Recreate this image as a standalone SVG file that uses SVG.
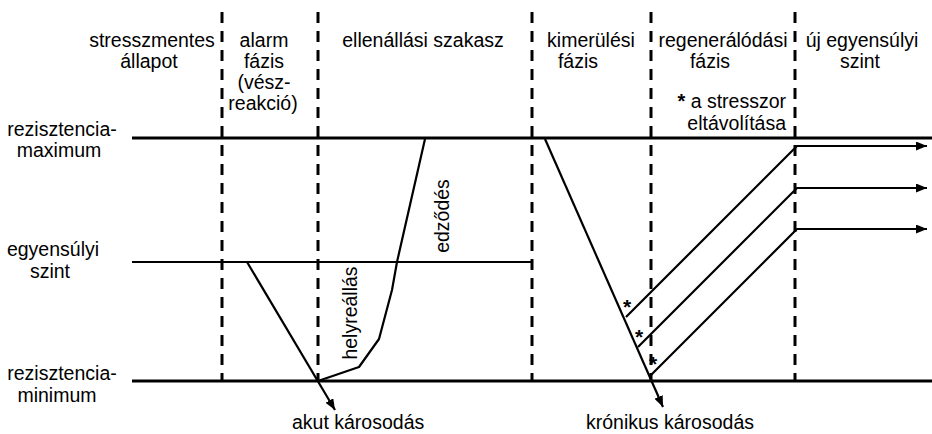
<svg xmlns="http://www.w3.org/2000/svg" width="932" height="434" viewBox="0 0 932 434">
<style>
text{font-family:"Liberation Sans",Arial,sans-serif;font-size:19.5px;fill:#000}
.m{text-anchor:middle}
.e{text-anchor:end}
.dash{stroke:#000;stroke-width:3;stroke-dasharray:11 8;fill:none}
.lvl{stroke:#000;fill:none}
.ln{stroke:#000;stroke-width:2.2;fill:none;stroke-linejoin:round}
.ast{font-weight:bold;font-size:21px;text-anchor:middle}
</style>
<defs>
<marker id="arr" markerUnits="userSpaceOnUse" markerWidth="12" markerHeight="10" refX="11" refY="4.5" orient="auto">
<path d="M0,0 L11,4.5 L0,9 z" fill="#000"/>
</marker>
</defs>
<rect width="932" height="434" fill="#fff"/>
<g id="phase-boundaries">
<line class="dash" x1="222" y1="12" x2="222" y2="381"/>
<line class="dash" x1="318" y1="12" x2="318" y2="381"/>
<line class="dash" x1="532" y1="12" x2="532" y2="381"/>
<line class="dash" x1="651" y1="12" x2="651" y2="381"/>
<line class="dash" x1="795" y1="12" x2="795" y2="381"/>
</g>
<g id="levels">
<line class="lvl" x1="132" y1="138" x2="932" y2="138" stroke-width="3"/>
<line class="lvl" x1="132" y1="262" x2="531" y2="262" stroke-width="2"/>
<line class="lvl" x1="132" y1="381" x2="932" y2="381" stroke-width="3"/>
</g>
<g id="connectors">
<path class="ln" d="M247,262 L335,410" marker-end="url(#arr)"/>
<path class="ln" d="M318,381 L359,367 L379,339 L392,290 L397,262 L425,139"/>
<path class="ln" d="M545,139 L663,407" marker-end="url(#arr)"/>
<path class="ln" d="M626,317 L797,146 H927" marker-end="url(#arr)"/>
<path class="ln" d="M638,347 L797,188 H927" marker-end="url(#arr)"/>
<path class="ln" d="M651,375 L797,229 H927" marker-end="url(#arr)"/>
</g>
<g id="header-stresszmentes">
<text class="m" x="152" y="47">stresszmentes</text>
<text class="m" x="149" y="68">állapot</text>
</g>
<g id="header-alarm">
<text class="m" x="264" y="47">alarm</text>
<text class="m" x="264" y="68">fázis</text>
<text class="m" x="264" y="89">(vész-</text>
<text class="m" x="263" y="110">reakció)</text>
</g>
<g id="header-ellenallasi">
<text class="m" x="423" y="47">ellenállási szakasz</text>
</g>
<g id="header-kimerulesi">
<text class="m" x="591" y="47">kimerülési</text>
<text class="m" x="578" y="68">fázis</text>
</g>
<g id="header-regeneralodasi">
<text class="m" x="723" y="47">regenerálódási</text>
<text class="m" x="710" y="68">fázis</text>
<text class="e" x="786" y="108"><tspan font-weight="bold" font-size="20">*</tspan> a stresszor</text>
<text class="e" x="786" y="130">eltávolítása</text>
</g>
<g id="header-uj">
<text class="m" x="862" y="47">új egyensúlyi</text>
<text class="m" x="860" y="68">szint</text>
</g>
<g id="label-max">
<text class="m" x="62" y="136">rezisztencia-</text>
<text class="m" x="59" y="157">maximum</text>
</g>
<g id="label-eq">
<text class="m" x="53" y="256">egyensúlyi</text>
<text class="m" x="50" y="278">szint</text>
</g>
<g id="label-min">
<text class="m" x="62" y="380">rezisztencia-</text>
<text class="m" x="57" y="402">minimum</text>
</g>
<g id="label-helyreallas">
<text class="m" transform="translate(357,313) rotate(-90)">helyreállás</text>
</g>
<g id="label-edzodes">
<text class="m" transform="translate(449,216) rotate(-90)">edződés</text>
</g>
<g id="label-akut">
<text x="292" y="429">akut károsodás</text>
</g>
<g id="label-kronikus">
<text class="m" x="670" y="429">krónikus károsodás</text>
</g>
<g id="asterisks">
<text class="ast" x="627" y="314">*</text>
<text class="ast" x="639" y="344">*</text>
<text class="ast" x="653" y="371">*</text>
</g>
</svg>
